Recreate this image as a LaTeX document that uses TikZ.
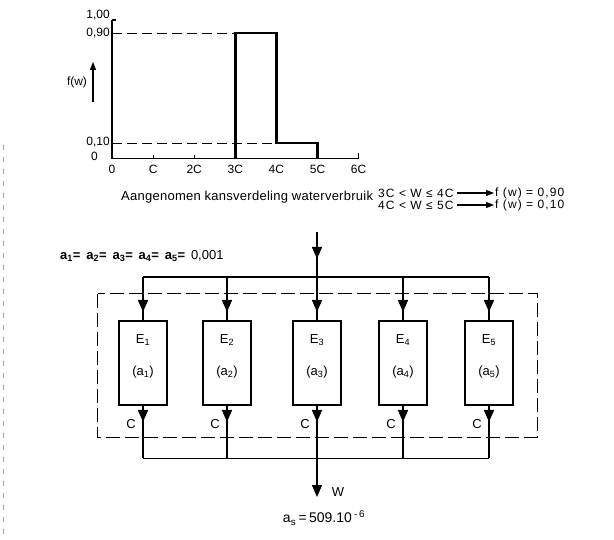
\documentclass[tikz,border=0pt]{standalone}
\usepackage{fontspec}
\setmainfont{Liberation Sans}
\usetikzlibrary{arrows.meta,calc}
\begin{document}
\begin{tikzpicture}[x=1pt,y=1pt,
  lbl/.style={inner sep=0pt,font=\fontsize{13}{14}\selectfont},
  caplbl/.style={inner sep=0pt,font=\fontsize{13}{14}\selectfont\addfontfeatures{LetterSpace=2}},
  clbl/.style={inner sep=0pt,font=\fontsize{12}{12}\selectfont\addfontfeatures{LetterSpace=9}},
  slbl/.style={inner sep=0pt,font=\fontsize{12}{13}\selectfont},
  ebox/.style={draw,line width=2pt,minimum width=48pt,minimum height=84pt,inner sep=0pt},
  flow/.style={line width=1.4pt,-{Triangle[length=12pt,width=10pt]}},
  smallflow/.style={line width=1.2pt,-{Triangle[length=8pt,width=6pt]}},
  wire/.style={line width=1.4pt},
  axis/.style={line width=1.6pt},
  bar/.style={line width=2.4pt},
  guide/.style={dash pattern=on 10pt off 5pt,line width=0.9pt}]
\useasboundingbox (0,0) rectangle (614,-540);
% scan edge
\draw[gray!70,dash pattern=on 5pt off 7pt,line width=0.7pt] (3,-145) -- (3,-540);
% ---------- graph ----------
\coordinate (O) at (112,-158.7);
\coordinate (Ytop) at (112,-20);
\coordinate (Xend) at (358.6,-158.7);
\draw[axis] (Ytop) -- (O) -- (Xend);
\draw[axis] (Ytop) -- (116,-20);
\draw[axis] (Xend) -- (358.6,-153);
\foreach \i in {1,2} \draw[line width=1.1pt] (112+41.1*\i,-158.7) -- (112+41.1*\i,-155);
\coordinate (P3a) at (235.3,-158.7);
\coordinate (P3b) at (235.3,-33.3);
\coordinate (P4a) at (276.4,-33.3);
\coordinate (P4b) at (276.4,-143.3);
\coordinate (P5a) at (317.5,-143.3);
\coordinate (P5b) at (317.5,-158.7);
\draw[bar] (P3a) -- (P3b) -- (P4a) -- (P4b) -- (P5a) -- (P5b);
\draw[guide] (112,-33.3) -- (P3b);
\draw[guide] (112,-143.3) -- (P4b);
\node[slbl,anchor=east] at (110,-15) {1,00};
\node[slbl,anchor=east] at (110,-33) {0,90};
\node[slbl,anchor=east] at (110,-142) {0,10};
\node[slbl,anchor=east] at (98,-156) {0};
\node[slbl] (fw) at (77,-82) {f(w)};
\coordinate (fa) at (93,-102);
\coordinate (fb) at (93,-62);
\draw[smallflow] (fa) -- (fb);
\foreach \t [count=\i from 0] in {0,C,2C,3C,4C,5C,6C}
  \node[slbl] at (112+41.1*\i,-169) {\t};
% caption
\node[caplbl,anchor=west] at (121,-197) {Aangenomen kansverdeling waterverbruik};
\node[clbl,anchor=west] (c1) at (378,-193) {3C < W ≤ 4C};
\node[clbl,anchor=west] (c2) at (378,-205) {4C < W ≤ 5C};
\node[clbl,anchor=west] (r1) at (495,-193) {f (w) = 0,90};
\node[clbl,anchor=west] (r2) at (495,-205) {f (w) = 0,10};
\draw[smallflow] ($(c1.east)+(3,0)$) -- ($(r1.west)+(-1,0)$);
\draw[smallflow] ($(c2.east)+(3,0)$) -- ($(r2.west)+(-1,0)$);
% ---------- system ----------
\node[lbl,anchor=west] at (60,-256) {\textbf{a\textsubscript{1}=\, a\textsubscript{2}=\, a\textsubscript{3}=\, a\textsubscript{4}=\, a\textsubscript{5}=}\, 0,001};
\draw[guide,line width=1pt,dash pattern=on 14pt off 5pt] (97.7,-294) rectangle (537.3,-437.3);
\foreach \x/\i in {143/1,227/2,317/3,403/4,489/5}{
  \node[ebox] (E\i) at (\x,-363) {};
  \node[lbl] at (\x,-340) {E\textsubscript{\i}};
  \node[lbl] at (\x,-372) {(a\textsubscript{\i})};
  \coordinate (t\i) at (\x,-277);
  \coordinate (b\i) at (\x,-458.3);
  \draw[wire] (t\i) -- (E\i.north);
  \draw[flow] (t\i) -- ($(E\i.north)+(0,8)$);
  \draw[wire] (E\i.south) -- (b\i);
  \draw[flow] (E\i.south) -- ($(E\i.south)+(0,-16)$);
  \node[lbl] at (\x-12,-424) {C};
}
\draw[wire] (t1) -- (t5);
\draw[wire] (b1) -- (b5);
\coordinate (in) at (317,-232);
\draw[wire] (in) -- (t3);
\draw[flow] (in) -- (317,-259);
\coordinate (out) at (317,-497);
\draw[flow] (b3) -- (out);
\node[lbl] at (338,-492) {W};
\node[lbl,font=\fontsize{14}{15}\selectfont] at (324,-518) {a\textsubscript{s}\,=\,509.10\,\textsuperscript{-\,6}};
\end{tikzpicture}
\end{document}
